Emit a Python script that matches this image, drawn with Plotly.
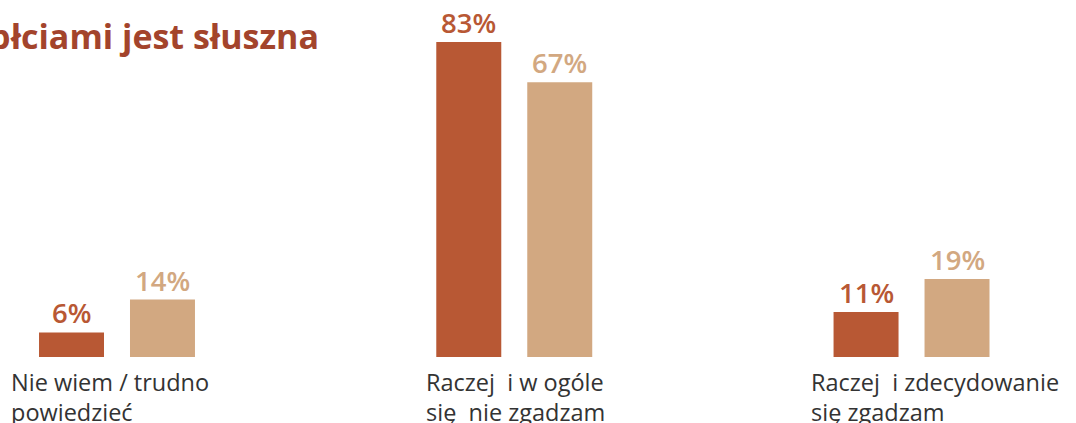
import plotly.graph_objects as go

# Answer categories (two-line labels) and the two compared groups
categories = ["Nie wiem / trudno<br>powiedzieć",
              "Raczej  i w ogóle<br>się  nie zgadzam",
              "Raczej  i zdecydowanie<br>się zgadzam"]
series_a = [6, 83, 11]
series_b = [14, 67, 19]
series_names = ["Grupa A", "Grupa B"]

title_lines = ["Czy uważasz, że różnica w zarobkach",
               "między płciami jest słuszna"]

COLOR_A = "#B85834"
COLOR_B = "#D2A881"
TITLE_COLOR = "#A3442C"
TEXT_COLOR = "#333333"
FONT = "Open Sans"

W, H = 1076, 423
M_T, M_B = 42, 66
BARGAP, GROUPGAP = 0.542, 0.2857
Y_MAX = 76.8
X_RANGE = [-0.2945, 2.414]

fig = go.Figure()
for name, vals, col in [(series_names[0], series_a, COLOR_A),
                        (series_names[1], series_b, COLOR_B)]:
    fig.add_trace(go.Bar(x=list(range(len(categories))), y=vals, name=name,
                         marker=dict(color=col, line=dict(width=0)),
                         hoverinfo="skip"))

# value labels above each bar (pinned to the top edge when a bar runs past it)
slot = (1 - BARGAP) / 2
annotations = []
for k, (vals, col) in enumerate([(series_a, COLOR_A), (series_b, COLOR_B)]):
    off = -slot / 2 if k == 0 else slot / 2
    for i, v in enumerate(vals):
        annotations.append(dict(
            x=i + off, y=min(v, Y_MAX), xref="x", yref="y",
            text=f"{v}%", showarrow=False, yanchor="bottom",
            xanchor="center", yshift=-1,
            font=dict(family=FONT, size=27.5, color=col, weight=600)))

# category labels under the groups, left aligned, one annotation per line
label_shift = [-108, -90, -103]
LINE_GAP = 30
for i, c in enumerate(categories):
    for j, line in enumerate(c.split("<br>")):
        annotations.append(dict(
            x=i, y=0, xref="x", yref="y", text=line, showarrow=False,
            xanchor="left", yanchor="top", align="left",
            xshift=label_shift[i], yshift=-7 - j * LINE_GAP,
            font=dict(family=FONT, size=23.5, color=TEXT_COLOR)))

# heading in the top-left corner
title_ends = [262, 321]
title_shift = [36, -19]
for j, line in enumerate(title_lines):
    annotations.append(dict(
        x=0, y=1, xref="paper", yref="paper", text=line,
        showarrow=False, xanchor="right", yanchor="bottom",
        xshift=title_ends[j], yshift=title_shift[j],
        font=dict(family=FONT, size=34, color=TITLE_COLOR, weight=700)))

fig.update_layout(
    width=W, height=H,
    margin=dict(l=0, r=0, t=M_T, b=M_B),
    paper_bgcolor="white", plot_bgcolor="white",
    barmode="group", bargap=BARGAP, bargroupgap=GROUPGAP,
    showlegend=False,
    xaxis=dict(range=X_RANGE, showticklabels=False, showgrid=False,
               zeroline=False, showline=False, fixedrange=True),
    yaxis=dict(range=[0, Y_MAX], showticklabels=False, showgrid=False,
               zeroline=False, showline=False, fixedrange=True),
    annotations=annotations,
)

fig.write_html("out.html", config={"displayModeBar": False})
